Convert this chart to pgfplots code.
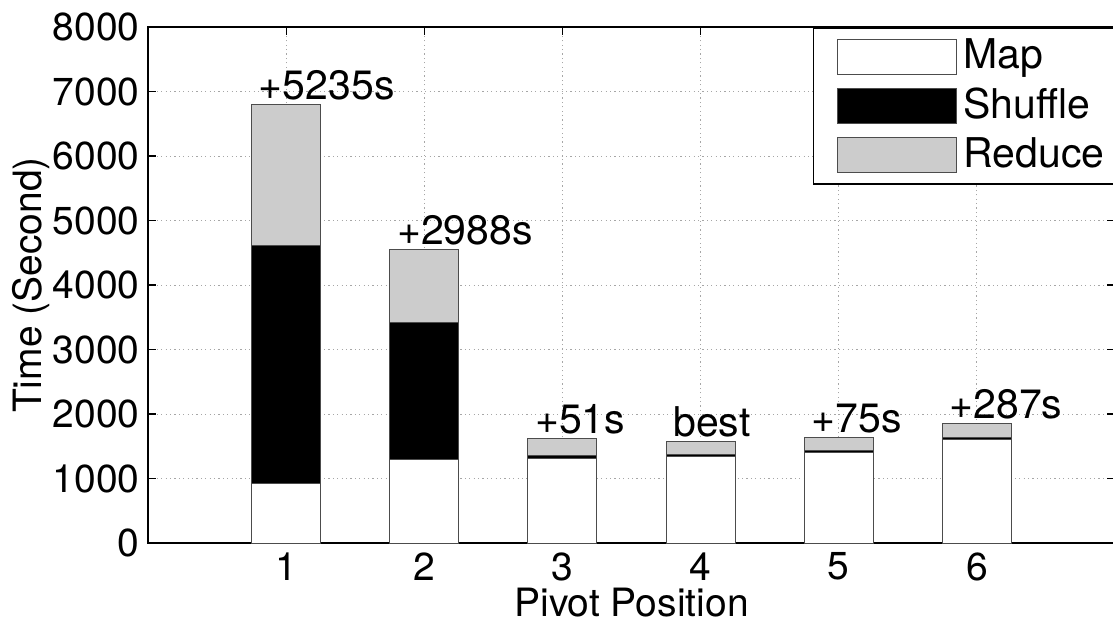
\documentclass[border=0pt]{standalone}
\usepackage{fontspec}
\setmainfont{TeX Gyre Heros}
\usepackage{pgfplots}
\pgfplotsset{compat=1.18}
\begin{document}
\begin{tikzpicture}
\useasboundingbox (-74pt,-39.5pt) rectangle (482.5pt,271.5pt);
\begin{axis}[
  at={(0,0)}, anchor=south west,
  scale only axis, width=483.5pt, height=258pt,
  font=\fontsize{19.5}{23}\selectfont,
  ybar stacked, bar width=0.5,
  xmin=0, xmax=7, ymin=0, ymax=8000,
  xtick={1,2,3,4,5,6}, xticklabels={1,2,3,4,5,6},
  ytick={0,1000,2000,3000,4000,5000,6000,7000,8000},
  yticklabels={0,1000,2000,3000,4000,5000,6000,7000,8000},
  tick align=inside, major tick length=4pt,
  axis line style={line width=0.8pt},
  every tick/.style={black, line width=0.6pt},
  grid=major,
  major grid style={gray!70, line width=0.5pt, dash pattern=on 0.6pt off 1.6pt},
  yticklabel style={inner sep=0pt, xshift=-4pt},
  xticklabel style={inner sep=0pt, yshift=-4.5pt},
  xlabel={Pivot Position},
  xlabel style={at={(axis description cs:0.5,0)}, anchor=base, yshift=-36.5pt},
  ylabel={Time (Second)},
  ylabel style={at={(axis description cs:-0.11,0.5)}, anchor=base},
  legend cell align=left,
  legend style={at={(0.6875,1)}, anchor=north west, draw=black, line width=0.8pt,
    fill=white, inner xsep=11.5pt, inner ysep=5.5pt, row sep=6.5pt,
    font=\fontsize{20.5}{24}\selectfont,
    nodes={inner sep=0pt, inner xsep=3.5pt}},
]
\pgfplotsset{mylegend/.style={legend image code/.code={\draw[##1, line width=0.5pt, draw=black!70] (0pt,-9.5pt) rectangle (59.5pt,8pt);}}}
\addplot[fill=white, draw=black!70, line width=0.5pt, mylegend] coordinates {(1,925) (2,1291) (3,1315) (4,1335) (5,1397) (6,1603)};
\addplot[fill=black, draw=black!70, line width=0.5pt, mylegend] coordinates {(1,3695) (2,2130) (3,45) (4,40) (5,40) (6,40)};
\addplot[fill=black!20, draw=black!70, line width=0.5pt, mylegend] coordinates {(1,2183) (2,1135) (3,259) (4,193) (5,206) (6,212)};
\legend{Map,Shuffle,Reduce}
\tikzset{barlab/.style={anchor=base west, inner sep=0pt, yshift=2.5pt, font=\fontsize{20.5}{24}\selectfont}}
\node[barlab] at (axis cs:0.8,6803) {+5235s};
\node[barlab] at (axis cs:1.8,4556) {+2988s};
\node[barlab] at (axis cs:2.8,1619) {+51s};
\node[barlab] at (axis cs:3.8,1568) {best};
\node[barlab] at (axis cs:4.8,1643) {+75s};
\node[barlab] at (axis cs:5.8,1855) {+287s};
\end{axis}
\end{tikzpicture}
\end{document}
